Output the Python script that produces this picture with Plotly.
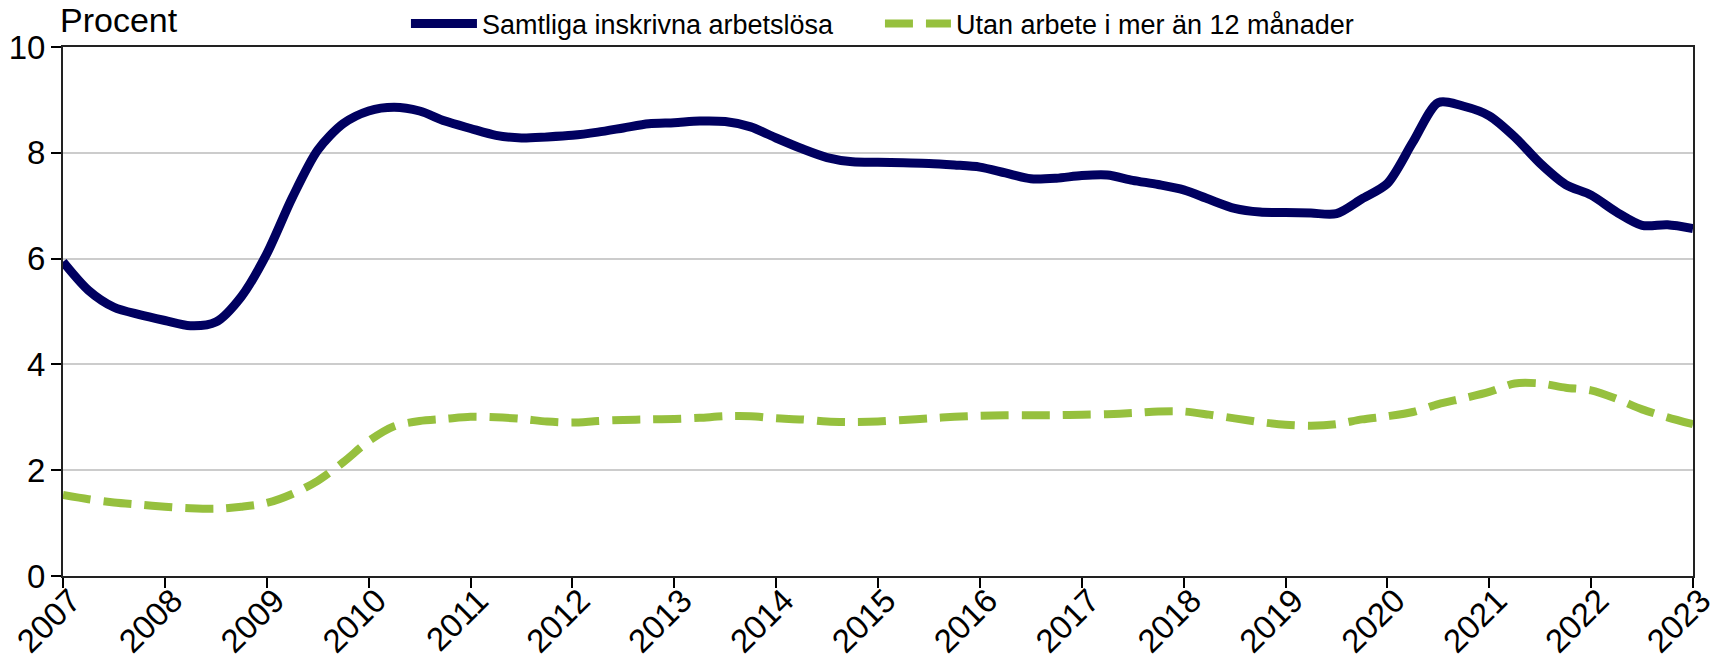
import plotly.graph_objects as go

# Quarterly time points 2007.00 ... 2023.00
years = [2007 + 0.25 * i for i in range(65)]

samtliga = [
    5.94, 5.40, 5.08, 4.94, 4.83, 4.73, 4.80, 5.28,
    6.09, 7.15, 8.05, 8.55, 8.79, 8.86, 8.79, 8.60,
    8.46, 8.33, 8.28, 8.30, 8.33, 8.39, 8.47, 8.55,
    8.57, 8.60, 8.59, 8.49, 8.28, 8.08, 7.91, 7.83,
    7.82, 7.81, 7.80, 7.77, 7.73, 7.62, 7.51, 7.52,
    7.57, 7.58, 7.48, 7.40, 7.30, 7.12, 6.95, 6.88,
    6.87, 6.86, 6.85, 7.13, 7.42, 8.20, 8.95, 8.88,
    8.70, 8.30, 7.80, 7.40, 7.20, 6.88, 6.63, 6.64,
    6.57,
]

utan_arbete = [
    1.53, 1.45, 1.39, 1.35, 1.31, 1.28, 1.27, 1.31,
    1.38, 1.55, 1.80, 2.15, 2.55, 2.83, 2.93, 2.97,
    3.01, 3.00, 2.97, 2.92, 2.90, 2.93, 2.95, 2.96,
    2.97, 2.99, 3.02, 3.02, 2.98, 2.96, 2.92, 2.91,
    2.92, 2.95, 2.98, 3.01, 3.03, 3.04, 3.04, 3.04,
    3.05, 3.06, 3.08, 3.11, 3.11, 3.05, 2.98, 2.91,
    2.86, 2.84, 2.87, 2.96, 3.02, 3.10, 3.25, 3.36,
    3.48, 3.64, 3.64, 3.56, 3.51, 3.35, 3.15, 3.00,
    2.87,
]

tick_years = list(range(2007, 2024))
tick_labels = [str(y) for y in tick_years]
y_ticks = [0, 2, 4, 6, 8, 10]

FONT = "Liberation Sans, Arial, sans-serif"

fig = go.Figure()
fig.add_trace(go.Scatter(
    x=years, y=samtliga, mode="lines", name="Samtliga inskrivna arbetslösa",
    line=dict(color="#000060", width=9, shape="spline", smoothing=0.8),
))
fig.add_trace(go.Scatter(
    x=years, y=utan_arbete, mode="lines", name="Utan arbete i mer än 12 månader",
    line=dict(color="#96C03E", width=8, shape="spline", smoothing=0.8, dash="28px,13px"),
))

fig.update_layout(
    width=1732, height=664,
    margin=dict(l=63, r=39, t=47, b=88, autoexpand=False),
    paper_bgcolor="white", plot_bgcolor="white",
    font=dict(family=FONT, size=33, color="black"),
    showlegend=True,
    legend=dict(
        orientation="h", x=0.2104, xanchor="left", y=1.0435, yanchor="middle",
        font=dict(size=27, color="black"), itemwidth=66,
        entrywidth=393, entrywidthmode="pixels",
        bgcolor="rgba(0,0,0,0)", traceorder="normal",
    ),
    annotations=[dict(
        text="Procent", xref="paper", yref="paper", x=-0.003, y=1.051,
        xanchor="left", yanchor="middle", showarrow=False, font=dict(size=34),
    )],
)

fig.update_xaxes(
    range=[2007, 2023], tickmode="array", tickvals=tick_years, ticktext=tick_labels,
    tickangle=-45, ticks="outside", ticklen=10, tickwidth=2, tickcolor="black",
    showline=True, linecolor="#222222", linewidth=2, mirror=True, automargin=False,
    showgrid=False, zeroline=False, tickfont=dict(size=33),
    ticklabelstandoff=-20, ticklabelshift=8,
)
fig.update_yaxes(
    range=[0, 10], tickmode="array", tickvals=y_ticks,
    ticks="outside", ticklen=10, tickwidth=2, tickcolor="black",
    showline=True, linecolor="#222222", linewidth=2, mirror=True, automargin=False,
    showgrid=True, gridcolor="#cccccc", gridwidth=2, zeroline=False,
    tickfont=dict(size=33), ticklabelstandoff=-1,
)

fig.write_html(
    "out.html",
    config={"displayModeBar": False},
    post_script="document.body.style.margin='0';",
)
